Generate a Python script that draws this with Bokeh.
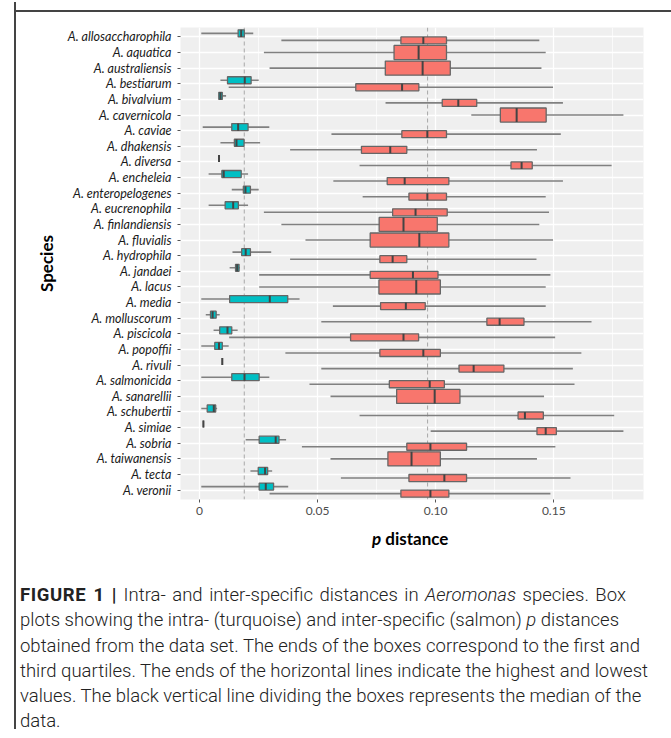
from bokeh.plotting import figure
from bokeh.models import (ColumnDataSource, FactorRange, Range1d, FixedTicker, Span, Div,
                          NumeralTickFormatter)
from bokeh.transform import dodge
from bokeh.layouts import column, row
from bokeh.embed import file_html
from bokeh.resources import INLINE

species = ["A. allosaccharophila", "A. aquatica", "A. australiensis", "A. bestiarum", "A. bivalvium",
           "A. cavernicola", "A. caviae", "A. dhakensis", "A. diversa", "A. encheleia",
           "A. enteropelogenes", "A. eucrenophila", "A. finlandiensis", "A. fluvialis", "A. hydrophila",
           "A. jandaei", "A. lacus", "A. media", "A. molluscorum", "A. piscicola",
           "A. popoffii", "A. rivuli", "A. salmonicida", "A. sanarellii", "A. schubertii",
           "A. simiae", "A. sobria", "A. taiwanensis", "A. tecta", "A. veronii"]

# intra-specific p distances: (min, q1, median, q3, max); None = no intra data
intra = [
    (0.0008, 0.0164, 0.0177, 0.0190, 0.0228),
    None,
    None,
    (0.0089, 0.0119, 0.0192, 0.0219, 0.0251),
    (0.0082, 0.0082, 0.0089, 0.0097, 0.0113),
    None,
    (0.0014, 0.0137, 0.0164, 0.0206, 0.0296),
    (0.0089, 0.0148, 0.0157, 0.0189, 0.0257),
    (0.0083, 0.0083, 0.0083, 0.0083, 0.0083),
    (0.0039, 0.0095, 0.0103, 0.0177, 0.0206),
    (0.0137, 0.0186, 0.0195, 0.0216, 0.0251),
    (0.0039, 0.0109, 0.0143, 0.0165, 0.0206),
    None,
    None,
    (0.0140, 0.0179, 0.0196, 0.0216, 0.0304),
    (0.0128, 0.0153, 0.0160, 0.0168, 0.0171),
    None,
    (0.0008, 0.0128, 0.0298, 0.0374, 0.0424),
    (0.0027, 0.0047, 0.0056, 0.0071, 0.0086),
    (0.0060, 0.0086, 0.0119, 0.0137, 0.0162),
    (0.0008, 0.0065, 0.0083, 0.0097, 0.0124),
    (0.0097, 0.0097, 0.0097, 0.0097, 0.0097),
    (0.0008, 0.0137, 0.0191, 0.0253, 0.0296),
    None,
    (0.0008, 0.0033, 0.0061, 0.0069, 0.0075),
    (0.0017, 0.0017, 0.0017, 0.0017, 0.0017),
    (0.0196, 0.0253, 0.0323, 0.0337, 0.0367),
    None,
    (0.0216, 0.0249, 0.0278, 0.0289, 0.0308),
    (0.0008, 0.0253, 0.0281, 0.0314, 0.0376),
]

# inter-specific p distances: (min, q1, median, q3, max)
inter = [
    (0.0347, 0.0853, 0.0948, 0.1046, 0.1439),
    (0.0273, 0.0824, 0.0928, 0.1046, 0.1466),
    (0.0297, 0.0787, 0.0945, 0.1062, 0.1448),
    (0.0124, 0.0662, 0.0858, 0.0929, 0.1497),
    (0.0788, 0.1028, 0.1096, 0.1174, 0.1539),
    (0.1151, 0.1274, 0.1343, 0.1468, 0.1795),
    (0.0559, 0.0857, 0.0965, 0.1046, 0.1530),
    (0.0384, 0.0686, 0.0808, 0.0878, 0.1429),
    (0.0678, 0.1319, 0.1364, 0.1409, 0.1745),
    (0.0567, 0.0795, 0.0869, 0.1056, 0.1539),
    (0.0691, 0.0887, 0.0965, 0.1046, 0.1466),
    (0.0273, 0.0818, 0.0915, 0.1049, 0.1480),
    (0.0347, 0.0761, 0.0864, 0.1007, 0.1439),
    (0.0449, 0.0723, 0.0931, 0.1056, 0.1497),
    (0.0384, 0.0764, 0.0818, 0.0878, 0.1427),
    (0.0253, 0.0723, 0.0904, 0.1010, 0.1486),
    (0.0253, 0.0760, 0.0918, 0.1020, 0.1466),
    (0.0565, 0.0767, 0.0874, 0.0956, 0.1466),
    (0.0516, 0.1217, 0.1271, 0.1374, 0.1660),
    (0.0126, 0.0640, 0.0864, 0.0928, 0.1506),
    (0.0364, 0.0764, 0.0948, 0.1020, 0.1617),
    (0.0516, 0.1099, 0.1161, 0.1289, 0.1581),
    (0.0466, 0.0804, 0.0975, 0.1037, 0.1588),
    (0.0555, 0.0835, 0.0996, 0.1103, 0.1459),
    (0.0678, 0.1349, 0.1378, 0.1456, 0.1756),
    (0.0979, 0.1429, 0.1466, 0.1511, 0.1795),
    (0.0434, 0.0878, 0.0978, 0.1131, 0.1507),
    (0.0555, 0.0798, 0.0898, 0.1020, 0.1429),
    (0.0599, 0.0887, 0.1037, 0.1131, 0.1571),
    (0.0297, 0.0853, 0.0978, 0.1056, 0.1486),
]

ref_lines = [0.019, 0.0966]          # dashed reference lines
x_ticks = [0, 0.05, 0.10, 0.15]
x_minor = [0.025, 0.075, 0.125, 0.175]
x_tick_labels = ["0", "0.05", "0.10", "0.15"]

TURQ = "#00BFC4"
SALMON = "#F8766D"

def make_src(rows, names):
    d = dict(sp=[], mn=[], q1=[], med=[], q3=[], mx=[])
    for n, r in zip(names, rows):
        d["sp"].append(n)
        for k, v in zip(["mn", "q1", "med", "q3", "mx"], r):
            d[k].append(v)
    return ColumnDataSource(d)

paired = [i for i, r in enumerate(intra) if r is not None]
single = [i for i, r in enumerate(intra) if r is None]
src_intra = make_src([intra[i] for i in paired], [species[i] for i in paired])
src_inter_p = make_src([inter[i] for i in paired], [species[i] for i in paired])
src_inter_s = make_src([inter[i] for i in single], [species[i] for i in single])

yr = FactorRange(factors=list(reversed(species)), range_padding=0.1, range_padding_units="absolute")
p = figure(width=647, height=516, y_range=yr, x_range=Range1d(-0.008, 0.188),
           output_backend="svg", toolbar_location=None,
           min_border_left=164, min_border_top=16, min_border_right=20, min_border_bottom=28)
p.background_fill_color = "#EFEFEF"
p.border_fill_color = None
p.outline_line_color = None

p.xaxis.ticker = FixedTicker(ticks=x_ticks, minor_ticks=x_minor)
p.xaxis.formatter = NumeralTickFormatter(format="0.00")
p.xaxis.major_label_overrides = {0: x_tick_labels[0]}
p.xgrid.grid_line_color = "white"
p.xgrid.grid_line_width = 1.3
p.xgrid.minor_grid_line_color = "white"
p.xgrid.minor_grid_line_width = 0.7
p.ygrid.grid_line_color = "white"
p.ygrid.grid_line_width = 1.3

for ax in (p.xaxis[0], p.yaxis[0]):
    ax.axis_line_color = None
    ax.major_tick_line_color = "#555555"
    ax.major_tick_out = 3
    ax.major_tick_in = 0
    ax.minor_tick_line_color = None
    ax.major_label_text_font = "Lato"
p.xaxis.major_label_text_font_size = "12px"
p.xaxis.major_label_text_color = "#4d4d4d"
p.xaxis.major_label_standoff = 3
p.yaxis.major_label_text_font_size = "12.5px"
p.yaxis.major_label_text_font_style = "italic"
p.yaxis.major_label_text_color = "#1a1a1a"
p.yaxis.major_label_standoff = 6
p.yaxis.axis_label = "Species"
p.yaxis.axis_label_text_font = "Lato"
p.yaxis.axis_label_text_font_style = "bold"
p.yaxis.axis_label_text_font_size = "17px"
p.yaxis.axis_label_text_color = "black"
p.yaxis.axis_label_standoff = 8

for loc in ref_lines:
    p.add_layout(Span(location=loc, dimension="height", line_color="#a8a8a8",
                      line_dash="4 3", line_width=1, level="underlay"))

def draw(src, off, h, color):
    yc = dodge("sp", off, range=yr)
    p.segment(x0="mn", x1="mx", y0=yc, y1=yc, source=src, line_color="#808080", line_width=1.6)
    p.hbar(y=yc, left="q1", right="q3", height=h, source=src, fill_color=color,
           line_color="#666666", line_width=1.3)
    p.segment(x0="med", x1="med", y0=dodge("sp", off - h / 2, range=yr),
              y1=dodge("sp", off + h / 2, range=yr), source=src, line_color="#444444", line_width=2)

draw(src_intra, 0.225, 0.45, TURQ)
draw(src_inter_p, -0.225, 0.45, SALMON)
draw(src_inter_s, 0.0, 0.9, SALMON)

xlabel = Div(text="<i>p</i> distance", width=120, height=24, margin=(0, 0, 0, 356),
             styles={"font-family": "Lato", "font-weight": "700", "font-size": "17px",
                     "line-height": "24px", "color": "black", "white-space": "nowrap"})

caption = ("<span style='word-spacing:2px'><b style='font-weight:700; letter-spacing:0.6px'>FIGURE 1 |</b> "
           "Intra- and inter-specific distances in <i>Aeromonas</i> species. Box</span><br>"
           "plots showing the intra- (turquoise) and inter-specific (salmon) <i>p</i> distances<br>"
           "obtained from the data set. The ends of the boxes correspond to the first and<br>"
           "third quartiles. The ends of the horizontal lines indicate the highest and lowest<br>"
           "values. The black vertical line dividing the boxes represents the median of the<br>"
           "data.")
div = Div(text=caption, width=640, height=140, margin=(32, 0, 0, 4),
          styles={"font-family": "Roboto", "font-weight": "300", "font-size": "18.5px",
                  "line-height": "25.3px", "color": "#222222", "white-space": "nowrap"})

top_line = Div(text="<div style='position:relative; top:-9px; width:657px; height:2px; background:#444444'></div>",
               width=657, height=2, margin=(9, 0, 0, 14))
left_line = Div(text="<div style='position:relative; top:-9px; width:2px; height:727px; background:#444444'></div>",
                width=2, height=726, margin=(0, 0, 0, 14))

layout = column(top_line, row(left_line, column(p, xlabel, div)))

open("out.html", "w").write(file_html(layout, INLINE))
